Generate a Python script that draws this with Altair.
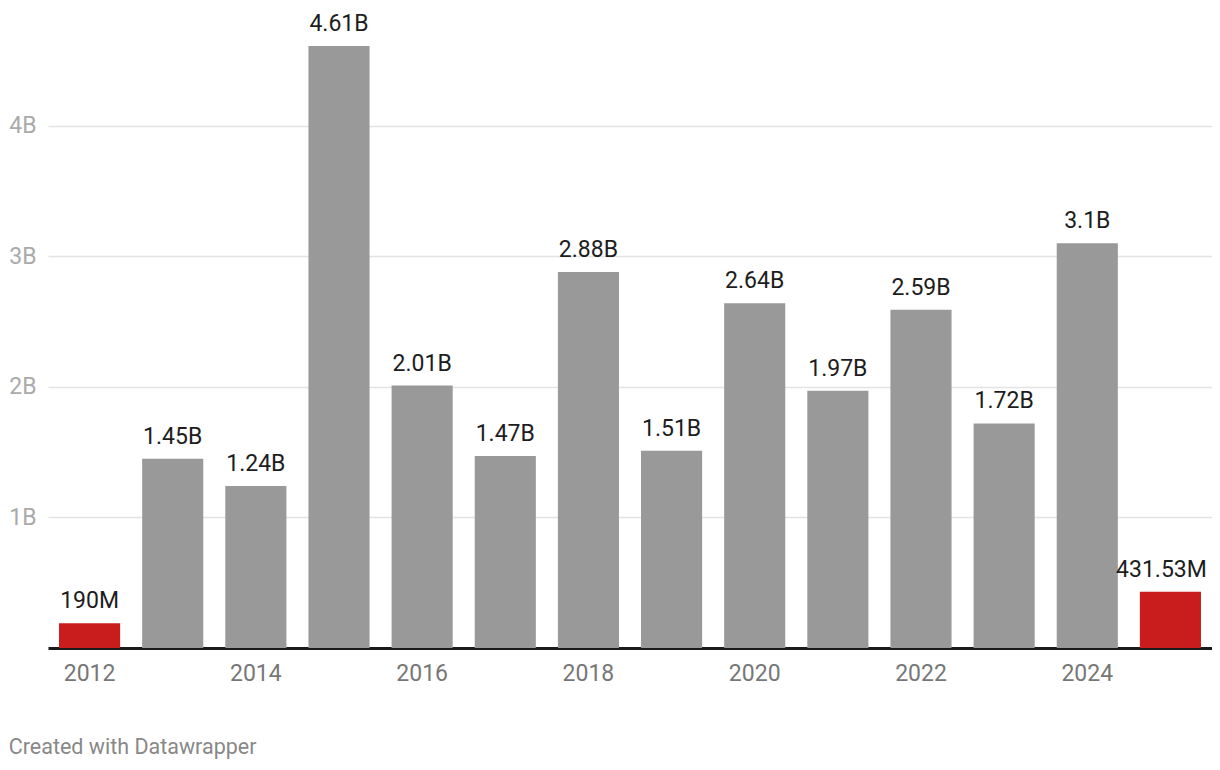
import altair as alt
import pandas as pd

years = [str(y) for y in range(2012, 2026)]
values = [0.19e9, 1.45e9, 1.24e9, 4.61e9, 2.01e9, 1.47e9, 2.88e9, 1.51e9,
          2.64e9, 1.97e9, 2.59e9, 1.72e9, 3.1e9, 0.43153e9]
labels = ["190M", "1.45B", "1.24B", "4.61B", "2.01B", "1.47B", "2.88B", "1.51B",
          "2.64B", "1.97B", "2.59B", "1.72B", "3.1B", "431.53M"]
highlight = ["yes", "no", "no", "no", "no", "no", "no", "no",
             "no", "no", "no", "no", "no", "yes"]
x_ticks = ["2012", "2014", "2016", "2018", "2020", "2022", "2024"]
y_ticks = [1e9, 2e9, 3e9, 4e9]

df = pd.DataFrame({"year": years, "value": values, "label": labels, "hl": highlight})

FONT = "Roboto"

x = alt.X("year:N", sort=years, title=None,
          scale=alt.Scale(paddingInner=0.265, paddingOuter=0.1325),
          axis=alt.Axis(values=x_ticks, labelAngle=0, labelFontSize=23, labelColor="#777777",
                        labelFont=FONT, labelPadding=14, ticks=False,
                        domainColor="#1a1a1a", domainWidth=3))
y = alt.Y("value:Q", title=None,
          scale=alt.Scale(domain=[0, 4.61e9], nice=False),
          axis=alt.Axis(values=y_ticks, labelExpr="format(datum.value/1e9, 'd') + 'B'",
                        labelFontSize=23, labelColor="#aaaaaa", labelFont=FONT,
                        labelPadding=12, ticks=False, domain=False,
                        gridColor="#e3e3e3", gridWidth=1.5))

bars = alt.Chart(df).mark_bar().encode(
    x=x, y=y,
    color=alt.Color("hl:N", scale=alt.Scale(domain=["yes", "no"], range=["#c91d1d", "#999999"]),
                    legend=None),
)
text_main = alt.Chart(df).mark_text(baseline="alphabetic", dy=-15, fontSize=23, font=FONT,
                                    color="#1d1d1d").encode(
    x=alt.X("year:N", sort=years), y="value:Q", text="label:N"
).transform_filter(alt.datum.year != years[-1])
text_edge = alt.Chart(df).mark_text(baseline="alphabetic", dy=-15, dx=-9, fontSize=23, font=FONT,
                                    color="#1d1d1d").encode(
    x=alt.X("year:N", sort=years), y="value:Q", text="label:N"
).transform_filter(alt.datum.year == years[-1])

chart = (bars + text_main + text_edge).properties(
    width=1164, height=602,
    autosize=alt.AutoSizeParams(type="none"),
    padding={"left": 40, "top": 38, "right": 0, "bottom": 114},
    title=alt.TitleParams("Created with Datawrapper", orient="bottom", anchor="start",
                          fontSize=21.5, font=FONT, color="#888888", fontWeight="normal",
                          offset=52),
).configure_view(stroke=None).configure_axis(grid=True).configure_axisX(grid=False)

chart.save("out.html", embed_options={"renderer": "svg", "actions": False})
